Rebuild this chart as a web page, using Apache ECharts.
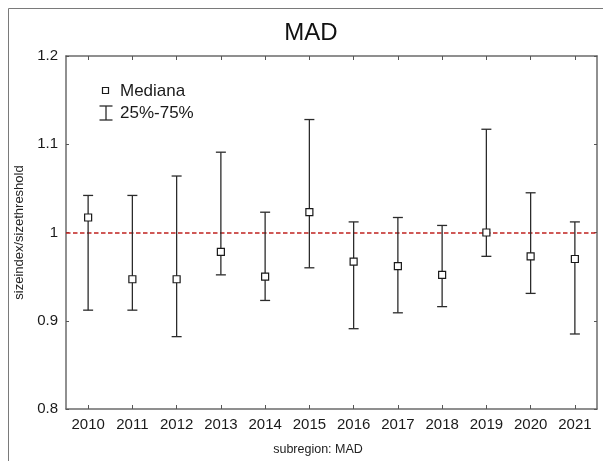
<!DOCTYPE html>
<html>
<head>
<meta charset="utf-8">
<script src="https://cdn.jsdelivr.net/npm/echarts@6/dist/echarts.min.js"></script>
<style>
  html, body { margin: 0; padding: 0; background: #fff; }
  #chart { width: 603px; height: 461px; }
</style>
</head>
<body>
<div id="chart"></div>
<script>
// Yearly distribution of sizeindex/sizethreshold, subregion MAD
const years = ['2010', '2011', '2012', '2013', '2014', '2015', '2016', '2017', '2018', '2019', '2020', '2021'];
const median = [1.017, 0.947, 0.947, 0.978, 0.950, 1.023, 0.967, 0.962, 0.952, 1.000, 0.973, 0.970];
const q25 = [0.912, 0.912, 0.882, 0.952, 0.923, 0.960, 0.891, 0.909, 0.916, 0.973, 0.931, 0.885];
const q75 = [1.042, 1.042, 1.064, 1.091, 1.023, 1.128, 1.012, 1.017, 1.008, 1.117, 1.045, 1.012];
const yTicks = [0.8, 0.9, 1.0, 1.1, 1.2];
const refValue = 1.0;

const FONT = '"Liberation Sans", Arial, sans-serif';
const chart = echarts.init(document.getElementById('chart'), null, { renderer: 'canvas' });

const axisLine = { show: true, lineStyle: { color: '#6b6b6b', width: 1.5 } };
const tickStyle = { color: '#555', width: 1 };

const option = {
  backgroundColor: '#fff',
  animation: false,
  title: {
    text: 'MAD',
    left: 306, top: 16, textAlign: 'center',
    textStyle: { fontFamily: FONT, fontSize: 24, fontWeight: 'normal', color: '#111' }
  },
  grid: { left: 66, right: 6, top: 56, bottom: 52, containLabel: false },
  xAxis: [
    {
      type: 'category', data: years, position: 'bottom',
      boundaryGap: true,
      axisLine: axisLine,
      axisTick: { show: true, inside: true, alignWithLabel: true, length: 4, lineStyle: tickStyle },
      axisLabel: { fontFamily: FONT, fontSize: 15, color: '#1a1a1a', margin: 8 },
      splitLine: { show: false }
    },
    {
      type: 'category', data: years, position: 'top',
      boundaryGap: true,
      axisLine: axisLine,
      axisTick: { show: true, inside: true, alignWithLabel: true, length: 4, lineStyle: tickStyle },
      axisLabel: { show: false },
      splitLine: { show: false }
    }
  ],
  yAxis: [
    {
      type: 'value', min: yTicks[0], max: yTicks[yTicks.length - 1], interval: 0.1,
      position: 'left',
      name: 'sizeindex/sizethreshold', nameLocation: 'middle', nameGap: 39,
      nameTextStyle: { fontFamily: FONT, fontSize: 13, color: '#222' },
      axisLine: axisLine,
      axisTick: { show: true, inside: true, length: 3, lineStyle: tickStyle },
      axisLabel: {
        fontFamily: FONT, fontSize: 15, color: '#1a1a1a', margin: 8,
        formatter: v => String(Math.round(v * 10) / 10)
      },
      splitLine: { show: false }
    },
    {
      type: 'value', min: yTicks[0], max: yTicks[yTicks.length - 1], interval: 0.1,
      position: 'right',
      axisLine: axisLine,
      axisTick: { show: true, inside: true, length: 3, lineStyle: tickStyle },
      axisLabel: { show: false },
      splitLine: { show: false }
    }
  ],
  series: [
    {
      // 25%-75% whiskers
      type: 'custom',
      name: '25%-75%',
      xAxisIndex: 0, yAxisIndex: 0,
      data: years.map((y, i) => [i, q25[i], q75[i]]),
      renderItem: function (params, api) {
        const x = api.value(0);
        const lo = api.coord([x, api.value(1)]);
        const hi = api.coord([x, api.value(2)]);
        const half = 5;
        const st = { stroke: '#2b2b2b', lineWidth: 1.3 };
        return {
          type: 'group',
          children: [
            { type: 'line', shape: { x1: lo[0], y1: lo[1], x2: hi[0], y2: hi[1] }, style: st },
            { type: 'line', shape: { x1: hi[0] - half, y1: hi[1], x2: hi[0] + half, y2: hi[1] }, style: st },
            { type: 'line', shape: { x1: lo[0] - half, y1: lo[1], x2: lo[0] + half, y2: lo[1] }, style: st }
          ]
        };
      },
      z: 3,
      markLine: {
        silent: true,
        symbol: 'none',
        label: { show: false },
        lineStyle: { color: '#c0221f', type: [4.5, 2.5], width: 1.6 },
        data: [{ yAxis: refValue }],
        z: 2
      }
    },
    {
      // medians
      type: 'scatter',
      name: 'Mediana',
      xAxisIndex: 0, yAxisIndex: 0,
      data: years.map((y, i) => [i, median[i]]),
      symbol: 'rect',
      symbolSize: 7,
      itemStyle: { color: '#fff', borderColor: '#1a1a1a', borderWidth: 1.2, opacity: 1 },
      z: 4
    }
  ],
  graphic: [
    // outer frame
    {
      type: 'rect', left: 6, top: 6, silent: true,
      shape: { x: 0, y: 0, width: 595, height: 470 },
      style: { fill: 'none', stroke: '#7a7a7a', lineWidth: 1 }
    },
    // legend: median marker
    {
      type: 'rect', silent: true,
      shape: { x: 102.5, y: 87.5, width: 6, height: 6 },
      style: { fill: '#fff', stroke: '#1a1a1a', lineWidth: 1.2 }
    },
    {
      type: 'text', silent: true, x: 120, y: 91,
      style: { text: 'Mediana', fontFamily: FONT, fontSize: 17, fill: '#1a1a1a', verticalAlign: 'middle' }
    },
    // legend: whisker marker
    {
      type: 'group', silent: true,
      children: [
        { type: 'line', shape: { x1: 106, y1: 106, x2: 106, y2: 120 }, style: { stroke: '#2b2b2b', lineWidth: 1.3 } },
        { type: 'line', shape: { x1: 99.5, y1: 106, x2: 112.5, y2: 106 }, style: { stroke: '#2b2b2b', lineWidth: 1.3 } },
        { type: 'line', shape: { x1: 99.5, y1: 120, x2: 112.5, y2: 120 }, style: { stroke: '#2b2b2b', lineWidth: 1.3 } }
      ]
    },
    {
      type: 'text', silent: true, x: 120, y: 113,
      style: { text: '25%-75%', fontFamily: FONT, fontSize: 17, fill: '#1a1a1a', verticalAlign: 'middle' }
    },
    // x axis caption
    {
      type: 'text', silent: true, x: 318, y: 450,
      style: { text: 'subregion: MAD', fontFamily: FONT, fontSize: 12.5, fill: '#222', align: 'center', verticalAlign: 'middle' }
    }
  ]
};

chart.setOption(option);
</script>
</body>
</html>
